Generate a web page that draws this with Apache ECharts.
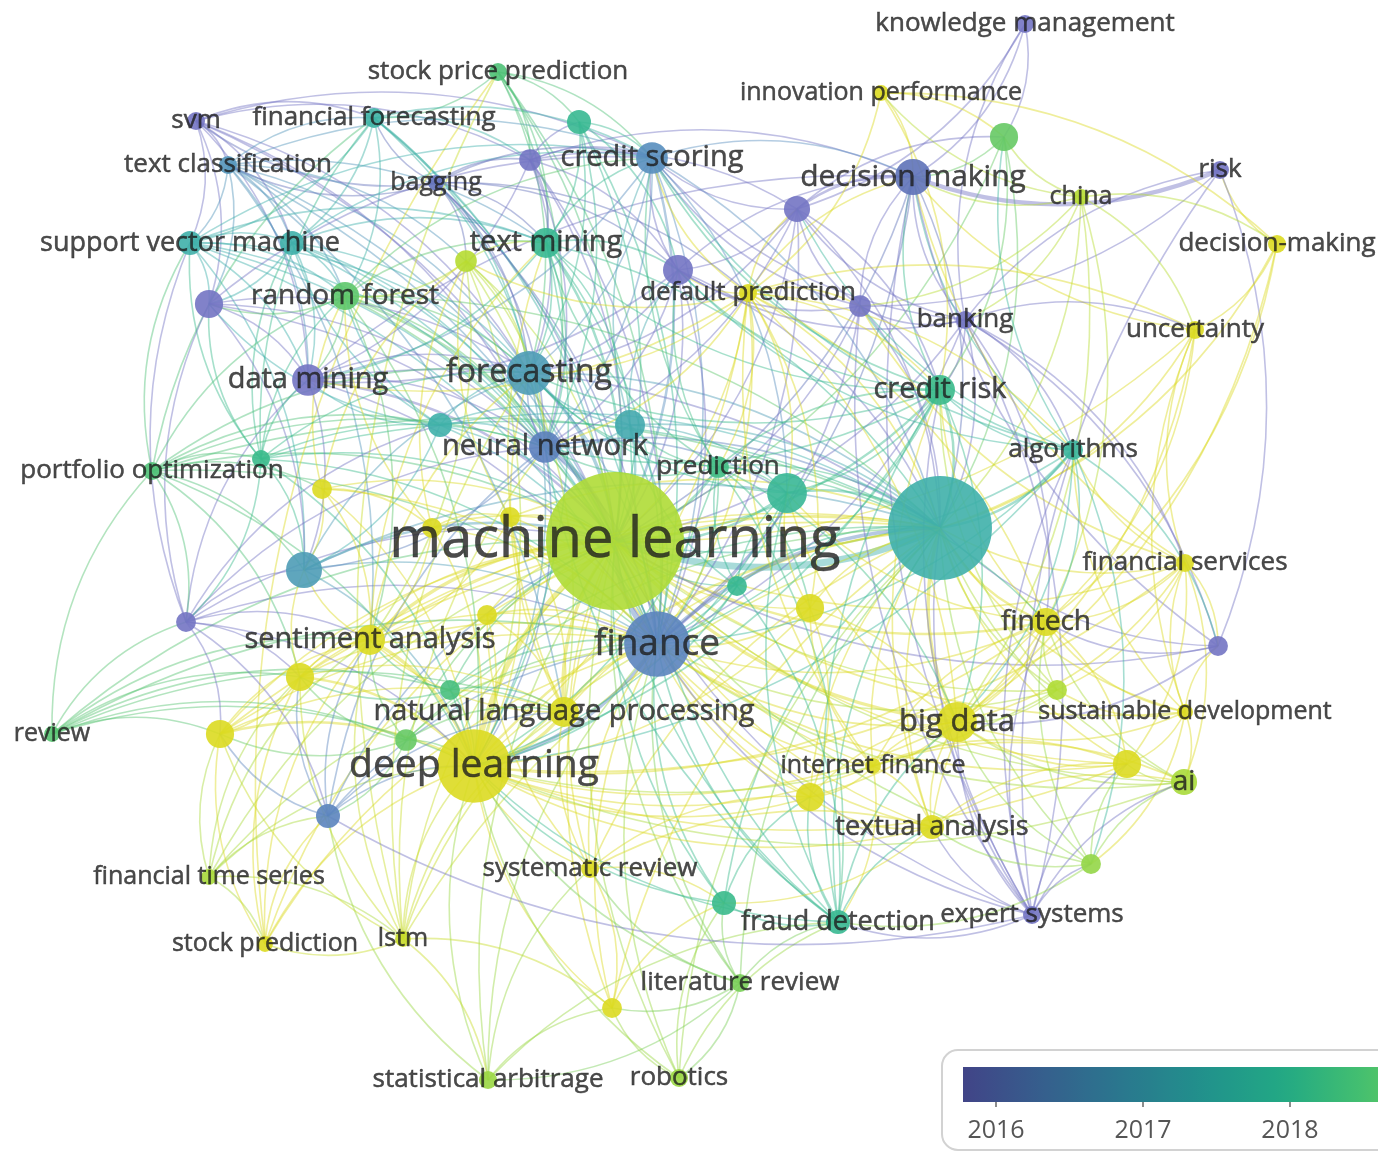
<!DOCTYPE html>
<html><head><meta charset="utf-8">
<script src="https://cdn.jsdelivr.net/npm/echarts@6/dist/echarts.min.js"></script>
<style>html,body{margin:0;padding:0;background:#fff}#c{width:1378px;height:1152px}</style>
</head><body><div id="c"></div>
<script>
// ---------------- DATA ----------------
const nodeIds = [
 'km','spp','ip','svm','ff','tc','bag','cs','dm','china',
 'risk','dmk','svmach','tm','rf','dp','bank','unc','dmin','fc',
 'cr','nn','pred','alg','po','ml','fs','fin','sa','finance',
 'nlp','bd','sd','rev','dl','if','ai','ta','fts','sr',
 'fd','es','sp','lstm','lr','sa2','rob','u9','u1','u2',
 'u3','u4','u5','u6','u7','u8','u10','u11','u12','u13',
 'u14','aibig','u15','u16','u17','u18','u19','u20','u21','u22',
 'u23','u24','u25','u26','u27','u28','u29','u30','u31','u32','u33'];
const keywords = [
 'knowledge management','stock price prediction','innovation performance','svm','financial forecasting','text classification','bagging','credit scoring','decision making','china',
 'risk','decision-making','support vector machine','text mining','random forest','default prediction','banking','uncertainty','data mining','forecasting',
 'credit risk','neural network','prediction','algorithms','portfolio optimization','machine learning','financial services','fintech','sentiment analysis','finance',
 'natural language processing','big data','sustainable development','review','deep learning','internet finance','ai','textual analysis','financial time series','systematic review',
 'fraud detection','expert systems','stock prediction','lstm','literature review','statistical arbitrage','robotics','','','',
 '','','','','','','','','','',
 '','','','','','','','','','',
 '','','','','','','','','','',''];
const mapX = [
 1025,498,881,196,374,228,436,652,913,1081,
 1220,1277,190,546,345,748,965,1195,308,529,
 940,545,718,1073,152,615,1185,1046,370,657,
 564,957,1185,52,474,873,1184,932,209,590,
 838,1032,265,403,740,488,679,292,579,1004,
 530,797,466,678,209,860,440,630,261,322,
 787,940,304,737,810,487,186,300,450,220,
 406,1057,1127,328,810,1218,1091,724,612,432,510];
const mapY = [
 24,72,93,121,118,165,183,158,177,197,
 170,244,243,243,296,293,320,330,380,373,
 390,447,467,450,471,541,563,622,640,644,
 712,722,712,734,766,766,782,827,877,869,
 922,915,944,939,983,1080,1078,243,122,137,
 160,209,261,270,304,306,425,425,459,489,
 493,528,570,586,608,615,622,677,690,734,
 740,690,764,816,797,646,864,903,1008,528,517];
const occurrences = [
 9,9,7,9,11,9,7,28,36,7,
 9,9,16,25,22,9,9,9,28,54,
 25,28,13,11,9,529,9,22,25,120,
 25,44,7,7,150,7,19,16,7,9,
 16,9,7,7,9,9,9,16,16,22,
 13,19,13,25,22,13,16,25,9,11,
 44,300,36,11,22,11,11,22,11,22,
 13,11,22,16,22,11,11,16,11,11,11];
const avgPubYear = [
 2015.9,2018.3,2020.0,2015.9,2017.5,2017.0,2016.2,2016.9,2016.3,2019.6,
 2015.9,2020.0,2017.4,2017.9,2018.5,2020.0,2015.9,2020.0,2015.9,2017.1,
 2018.0,2016.6,2018.1,2017.7,2018.3,2019.5,2020.0,2020.0,2020.0,2016.7,
 2020.0,2020.0,2020.0,2018.4,2020.0,2020.0,2019.4,2020.0,2019.4,2020.0,
 2017.9,2015.9,2020.0,2019.8,2018.8,2019.2,2019.2,2017.4,2017.9,2018.6,
 2015.9,2015.9,2019.6,2015.9,2015.9,2015.9,2017.4,2017.3,2018.0,2020.0,
 2017.8,2017.4,2017.1,2017.9,2020.0,2020.0,2015.9,2020.0,2018.2,2020.0,
 2018.6,2019.5,2020.0,2016.7,2020.0,2015.9,2019.1,2018.0,2020.0,2020.0,2020.0];
const colorbarTicks = [2016, 2017, 2018];
const colorbarRange = [2015.7755, 2018.599];

const coOccurrenceLinks = [
 'ml: spp svm ff tc bag cs dm svmach tm rf dp bank unc dmin fc cr nn pred alg po fs fin sa finance nlp bd sd rev dl if ai ta fts sr fd es sp lstm lr sa2 rob u9 u1 u2 u3 u4 u5 u6 u7 u8 u10 u11 u12 u13 u14 aibig u15 u16 u17 u18 u19 u20 u21 u22 u23 u24 u25 u26 u27 u28 u29 u30 u31 u32 u33',
 'aibig: cs dm china dmk unc bank cr alg fs fin bd sd ai ta if fd es u28 u24 u25 u29 u27 u17 u14 u16 pred nn fc tm dp u4 u8 u6 u2 rf dmin sa nlp dl finance u30 lr rob sr u11 u10 po u12 lstm u15 u22 u20 u21 u23 u18 u33 u31',
 'finance: nn fc cs dm dmin tm rf sa nlp dl bd fin fd ta if u26 u15 u19 u21 u23 u20 u22 es sr lr u30 u31 sa2 rob fts pred u14 u16 u17 alg cr bank u8 u6 u4 dp u11 u10 u12 po rev u18 u33 u32 u13 svmach u9 tc ff bag u3 u1 spp u27 u24 ai u25 lstm sp',
 'dl: sa nlp u20 u22 u23 u21 u18 u13 u32 u33 fts sp lstm sa2 sr u31 lr rob fd u30 ta if u27 bd fin u17 fc nn pred u14 u16 u26 rev u15 po u12 tm rf u5 dp ai u25 u24 fs u19 cr alg',
 'svm: tc svmach ff u7 dmin bag fc nn u3 cs u9',
 'tc: svmach u9 ff u7 dmin rf fc tm u5 bag sa nlp cs',
 'ff: svmach u9 fc nn spp bag u3 cs rf u12 po',
 'spp: u1 fc nn u3 tm cs sp lstm',
 'svmach: u7 u9 rf dmin fc nn u12 po cs u15 u19 tm',
 'u9: rf dmin fc nn u7 cs tm u12 u10',
 'u7: dmin rf fc nn u19 u15 u10 cs u12',
 'dmin: fc nn u10 u15 u19 cs tm dm u6 u3 dp rf u12',
 'rf: fc nn tm u5 cs u10 u12 u13 sa u32 po',
 'bag: u3 cs fc tm u5 nn u6 dp',
 'u3: cs u1 tm fc nn u6 dm u4',
 'u1: cs tm fc nn u6',
 'cs: tm fc nn dp u6 u4 dm cr bank u8 u11 pred u14 alg',
 'tm: fc nn u5 u6 u11 pred sa nlp cr',
 'u5: fc nn sa nlp u13 u32 dp u33',
 'fc: nn u10 u11 pred u14 u6 dp cr u12 u15 po sa nlp lstm',
 'nn: u10 u11 pred u14 u6 dp cr u15 u12 u19 po u26 lstm fd',
 'dm: km risk u2 china u4 u6 u8 bank dp cr alg ip es fs u28 unc',
 'km: u2 u4 bank',
 'risk: bank dmk u8 u28 es',
 'dmk: unc china bd fin ip',
 'unc: china bd fin fs dp bank sd',
 'china: u2 ip bank bd fin u8',
 'ip: u2 dp cr',
 'u2: cr alg u4',
 'u4: u6 u8 dp bank cr alg nn fc',
 'u6: dp u8 cr bank alg pred u11',
 'u8: bank cr alg dp es fs',
 'bank: cr alg es fs u28 fin',
 'dp: cr alg pred u14 bd fin if u17',
 'cr: alg pred u14 bd fin fd es u24 ta',
 'alg: fs fin u28 bd sd es u29',
 'pred: u14 u11 u16 bd fd fin u17',
 'u11: u14 u16 u10 fd',
 'u14: u16 u17 bd fin fd',
 'fs: fin u28 bd sd ai u24 u25',
 'fin: u28 bd sd ai u24 u25 u27 if ta es u29',
 'bd: sd ai u24 u25 u27 if ta fd es u29 u17 u28',
 'sd: u24 ai u25 u28 u29',
 'ai: u25 u29 es ta if',
 'u25: ta u29 es if',
 'ta: if u27 fd es u29 sr u30',
 'if: u27 fd u17',
 'u27: fd u30 sr u17',
 'fd: u30 lr es rob sa2 u16 u29',
 'es: u29 u26',
 'u30: lr sr rob u31',
 'lr: sr rob u31 sa2',
 'u31: sr sa2 rob lstm',
 'sr: sa2 nlp u18',
 'sa2: lstm u26',
 'lstm: sp fts nlp sa u20 u22',
 'sp: fts u20 u22 u26 sa',
 'fts: u22 u20 u26 sa',
 'rev: po u19 u22 u20 sa u21 u23 nlp',
 'po: u12 u19 u15 u10 u13 u20',
 'u19: u15 u26 u12 u10 u22 sa u20',
 'u15: u10 u12 u13 sa u20',
 'u26: u20 u22 u23 sa nlp',
 'u20: sa u22 u23 nlp u21',
 'u22: sa u23 nlp',
 'sa: nlp u13 u32 u18 u21 u23 u33',
 'nlp: u18 u21 u23 u33',
 'u32: u13 u33'
];
const strongLinks = [
 ['ml','aibig',7],['ml','finance',5],['ml','dl',5],['ml','fc',3],['ml','nn',3],['ml','cs',2],
 ['ml','sa',3],['ml','nlp',3],['ml','bd',3],['ml','fin',2],['ml','u14',2],['ml','u15',2],
 ['aibig','finance',3],['aibig','dl',2],['aibig','bd',3],['aibig','fin',2],['aibig','cr',2],
 ['aibig','alg',2],['dm','risk',4],['dl','nlp',3],['dl','sa',3],['finance','dl',3],['ml','tm',2],
 ['ml','rf',2],['ml','dmin',2],['ml','pred',2],['ml','u11',2],['aibig','u14',2],['ml','cr',2],
 ['finance','nlp',2],['dl','u20',2],['dl','u22',2],['dm','u4',2]
];

// ---------------- STYLE HELPERS ----------------
const NODE_PALETTE = ['#7a74c6','#5d72b8','#5a8cc0','#3fb0aa','#36b98e','#5cc66a','#8fd54a','#b4dc32','#e6da1c'];
const VIRIDIS = ['#440154','#482475','#414487','#355f8d','#2a788e','#21918c','#22a884','#44bf70','#7ad151','#bddf26','#fde725'];
const tOf = y => 0.2 + (y - colorbarRange[0]) * 0.184;
const clamp = v => Math.max(0, Math.min(1, v));
const nodeColor = y => echarts.color.lerp(clamp((tOf(y) - 0.2) / 0.8), NODE_PALETTE);
const barColor = y => echarts.color.lerp(clamp(tOf(y)), VIRIDIS);
const radiusOf = occ => 3 * Math.sqrt(occ);
const fontOf = occ => Math.round(21 + 1.5 * Math.sqrt(occ));

const idx = {};
nodeIds.forEach((id, i) => idx[id] = i);

const weightMap = new Map();
const keyOf = (a, b) => a < b ? a + '|' + b : b + '|' + a;
coOccurrenceLinks.forEach(s => {
  const [src, rest] = s.split(':');
  rest.trim().split(/\s+/).forEach(t => { const k = keyOf(src.trim(), t); if (!weightMap.has(k)) weightMap.set(k, 1); });
});
strongLinks.forEach(([a, b, w]) => weightMap.set(keyOf(a, b), w));

const graphNodes = nodeIds.map((id, i) => ({
  name: id,
  value: [mapX[i], mapY[i], avgPubYear[i]],
  symbolSize: 2 * radiusOf(occurrences[i]),
  itemStyle: { color: nodeColor(avgPubYear[i]), opacity: 0.9 }
}));
graphNodes.sort((a, b) => b.symbolSize - a.symbolSize);

const graphLinks = [];
weightMap.forEach((w, k) => {
  const [a, b] = k.split('|');
  const ia = idx[a], ib = idx[b];
  const leaf = occurrences[ia] <= occurrences[ib] ? ia : ib;
  const hub = leaf === ia ? ib : ia;
  graphLinks.push({
    source: nodeIds[leaf], target: nodeIds[hub],
    lineStyle: { color: nodeColor(avgPubYear[leaf]), width: 1.6 + 0.9 * (w - 1), opacity: 0.45, curveness: 0.2 }
  });
});

const labelData = [];
keywords.forEach((kw, i) => {
  if (!kw) return;
  labelData.push({ value: [mapX[i], mapY[i]], name: kw,
    label: { fontSize: fontOf(occurrences[i]) } });
});

const stops = [];
for (let k = 0; k <= 20; k++) {
  const y = colorbarRange[0] + (colorbarRange[1] - colorbarRange[0]) * k / 20;
  stops.push({ offset: k / 20, color: barColor(y) });
}

const chart = echarts.init(document.getElementById('c'), null, { renderer: 'canvas' });
chart.setOption({
  animation: false,
  backgroundColor: '#ffffff',
  grid: [
    { left: 0, top: 0, width: 1378, height: 1152, show: false },
    { left: 963, top: 1067, width: 415, height: 40, show: false }
  ],
  xAxis: [
    { gridIndex: 0, type: 'value', min: 0, max: 1378, show: false },
    { gridIndex: 1, type: 'value', min: colorbarRange[0], max: colorbarRange[1],
      axisLine: { show: false }, splitLine: { show: false },
      axisTick: { show: true, inside: true, length: 15, customValues: colorbarTicks, lineStyle: { color: '#8c8c8c', width: 2 } },
      axisLabel: { customValues: colorbarTicks, formatter: v => String(v), fontSize: 25, color: '#555', margin: 11, fontFamily: 'Open Sans' } }
  ],
  yAxis: [
    { gridIndex: 0, type: 'value', min: 0, max: 1152, inverse: true, show: false },
    { gridIndex: 1, type: 'value', min: 0, max: 40, show: false }
  ],
  graphic: [{
    type: 'rect', left: 941, top: 1049, z: 0,
    shape: { width: 600, height: 100, r: 16 },
    style: { fill: 'rgba(0,0,0,0)', stroke: '#d2d2d2', lineWidth: 2 }
  }],
  series: [
    {
      type: 'graph', coordinateSystem: 'cartesian2d', xAxisIndex: 0, yAxisIndex: 0,
      layout: 'none', roam: false, silent: true, z: 2,
      data: graphNodes, links: graphLinks,
      label: { show: false }, emphasis: { disabled: true }
    },
    {
      type: 'scatter', xAxisIndex: 0, yAxisIndex: 0, silent: true, z: 10,
      symbolSize: 1, itemStyle: { color: 'rgba(0,0,0,0)' },
      label: { show: true, position: 'inside', formatter: p => p.name, color: '#1e1e1e', fontFamily: 'Open Sans',
        textBorderColor: '#1e1e1e', textBorderWidth: 0.5 },
      data: labelData
    },
    {
      type: 'custom', xAxisIndex: 1, yAxisIndex: 1, silent: true, z: 3,
      data: [[colorbarRange[0], colorbarRange[1]]],
      renderItem: (params, api) => {
        const p0 = api.coord([api.value(0), 40]);
        const p1 = api.coord([api.value(1), 5]);
        return { type: 'rect', shape: { x: p0[0], y: p0[1], width: p1[0] - p0[0], height: p1[1] - p0[1] },
          style: { fill: new echarts.graphic.LinearGradient(0, 0, 1, 0, stops) } };
      }
    }
  ]
});
</script></body></html>
